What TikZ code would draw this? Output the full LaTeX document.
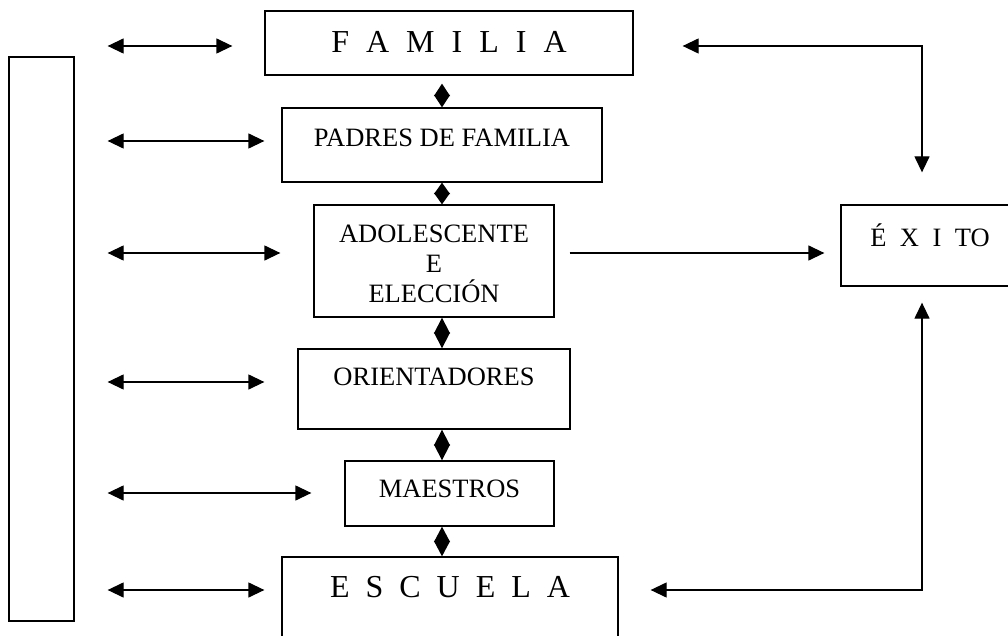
\documentclass[tikz,border=0pt]{standalone}
\usepackage{fontspec}
\setmainfont{Liberation Serif}
\usetikzlibrary{arrows.meta}

\begin{document}
\begin{tikzpicture}[x=1pt, y=-1pt,
        caja/.style={draw, line width=1.3pt, inner sep=0pt, anchor=base, font=\fontsize{26.5}{30}\selectfont},
        grande/.style={font=\fontsize{32}{36}\selectfont},
        flecha/.style={line width=1.3pt, {Triangle[length=16pt,width=15pt]}-{Triangle[length=16pt,width=15pt]}},
        punta/.style={line width=1.3pt, -{Triangle[length=16pt,width=15pt]}},
        rombo/.style={line width=1.3pt, {Triangle[length=#1,width=16pt]}-{Triangle[length=#1,width=16pt]}}]
        \useasboundingbox (0,0) rectangle (1008,636);
        \clip (0,0) rectangle (1008,636);

        % Define rows and axes
        \coordinate (r1) at (0,46);
        \coordinate (r2) at (0,141);
        \coordinate (r3) at (0,253);
        \coordinate (r4) at (0,382);
        \coordinate (r5) at (0,493);
        \coordinate (r6) at (0,590);
        \coordinate (eje) at (442,0);
        \coordinate (vx) at (922,0);

        % Define nodes
        \node at (41.5,339) (lado) [draw, line width=1.3pt, minimum width=65pt, minimum height=564pt] {};
        \node at (449,53) (familia) [caja, grande, minimum width=368pt, text height=42pt, text depth=22pt] {\spaceskip=17pt F A M I L I A};
        \node at (442,147) (padres) [caja, minimum width=320pt, text height=39pt, text depth=35pt] {PADRES DE FAMILIA};
        \node at (434,302) (adolescente) [caja, align=center, minimum width=240pt, text height=97pt, text depth=15pt] {ADOLESCENTE\\E\\ELECCIÓN};
        \node at (434,385) (orientadores) [caja, minimum width=272pt, text height=36pt, text depth=44pt] {ORIENTADORES};
        \node at (449.5,497) (maestros) [caja, minimum width=209pt, text height=36pt, text depth=29pt] {MAESTROS};
        \node at (450,597) (escuela) [caja, grande, minimum width=336pt, text height=40pt, text depth=63pt] {\spaceskip=16pt E S C U E L A};
        \node at (930,247) (exito) [caja, minimum width=178pt, text height=42pt, text depth=39pt] {\spaceskip=13.5pt É X I TO};

        % Draw links down the middle
        \draw[rombo=12.5pt, shorten <=8pt] (eje |- familia.south) -- (eje |- padres.north);
        \draw[rombo=11.5pt] (eje |- padres.south) -- (eje |- adolescente.north);
        \draw[rombo=16pt] (eje |- adolescente.south) -- (eje |- orientadores.north);
        \draw[rombo=16pt] (eje |- orientadores.south) -- (eje |- maestros.north);
        \draw[rombo=15.5pt] (eje |- maestros.south) -- (eje |- escuela.north);

        % Draw edges on the left
        \draw[flecha, shorten <=33pt, shorten >=32pt] (lado.east |- r1) -- (familia.west |- r1);
        \draw[flecha, shorten <=33pt, shorten >=17pt] (lado.east |- r2) -- (padres.west |- r2);
        \draw[flecha, shorten <=33pt, shorten >=33pt] (lado.east |- r3) -- (adolescente.west |- r3);
        \draw[flecha, shorten <=33pt, shorten >=33pt] (lado.east |- r4) -- (orientadores.west |- r4);
        \draw[flecha, shorten <=33pt, shorten >=33pt] (lado.east |- r5) -- (maestros.west |- r5);
        \draw[flecha, shorten <=33pt, shorten >=17pt] (lado.east |- r6) -- (escuela.west |- r6);

        % Draw edges on the right
        \draw[punta, shorten <=15pt, shorten >=16pt] (adolescente.east |- r3) -- (exito.west |- r3);
        \draw[flecha, shorten <=49pt, shorten >=32pt] (familia.east |- r1) -- (vx |- r1) -- (vx |- exito.north);
        \draw[flecha, shorten <=16pt, shorten >=32pt] (vx |- exito.south) -- (vx |- r6) -- (escuela.east |- r6);
    \end{tikzpicture}
\end{document}
